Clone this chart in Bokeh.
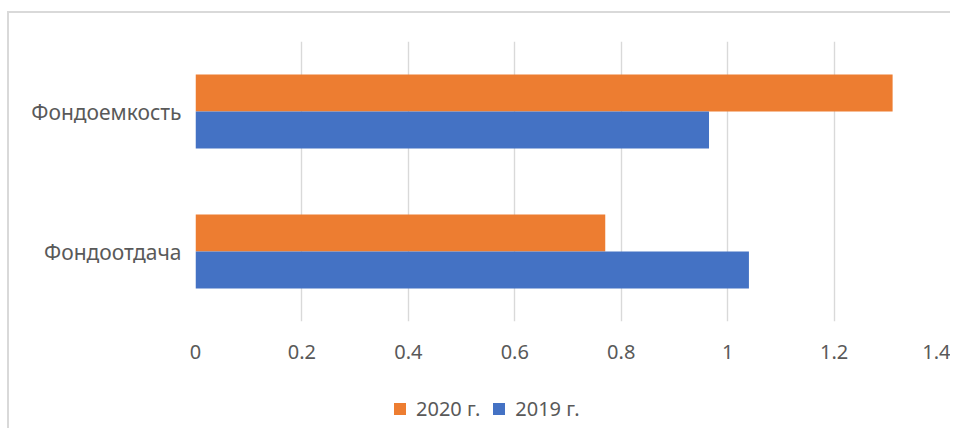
from bokeh.plotting import figure
from bokeh.models import FactorRange, Range1d, FixedTicker, Legend, LegendItem
from bokeh.transform import dodge
from bokeh.layouts import column
from bokeh.embed import file_html
from bokeh.resources import INLINE

categories = ["Фондоотдача", "Фондоемкость"]
values_2020 = [0.77, 1.31]
values_2019 = [1.04, 0.965]
series_names = ["2020 г.", "2019 г."]
x_ticks = [0, 0.2, 0.4, 0.6, 0.8, 1, 1.2, 1.4]
x_tick_labels = ["0", "0.2", "0.4", "0.6", "0.8", "1", "1.2", "1.4"]

ORANGE = "#ED7D31"
BLUE = "#4472C4"
TEXT = "#595959"
GRID = "#D9D9D9"
FONT = "Noto Sans"

p = figure(width=941, height=370, output_backend="svg", toolbar_location=None,
           y_range=FactorRange(*categories), x_range=Range1d(0, 1.4),
           min_border_left=186, min_border_right=10, min_border_top=28, min_border_bottom=62)

data = dict(cat=categories, v2020=values_2020, v2019=values_2019)
bar_h = 0.264
p.hbar(y=dodge("cat", bar_h / 2, range=p.y_range), right="v2020", left=0, height=bar_h,
       color=ORANGE, line_color=None, source=data)
p.hbar(y=dodge("cat", -bar_h / 2, range=p.y_range), right="v2019", left=0, height=bar_h,
       color=BLUE, line_color=None, source=data)

p.outline_line_color = None
p.ygrid.grid_line_color = None
p.xgrid.grid_line_color = GRID
p.xgrid.grid_line_width = 1.4
p.xaxis.ticker = FixedTicker(ticks=x_ticks)
p.xaxis.major_label_overrides = {t: l for t, l in zip(x_ticks, x_tick_labels)}

for ax in (p.xaxis, p.yaxis):
    ax.axis_line_color = None
    ax.major_tick_line_color = None
    ax.minor_tick_line_color = None
    ax.major_label_text_font = FONT
    ax.major_label_text_color = TEXT
p.xaxis.major_label_text_font_size = "20px"
p.yaxis.major_label_text_font_size = "21px"
p.xaxis.major_label_standoff = 17
p.yaxis.major_label_standoff = 8

# legend strip: the same series drawn outside its visible ranges, only the legend shows
lg = figure(width=941, height=45, output_backend="svg", toolbar_location=None,
            x_range=Range1d(5, 6), y_range=Range1d(5, 6),
            x_axis_type=None, y_axis_type=None,
            min_border_left=0, min_border_right=0, min_border_top=0, min_border_bottom=0)
lg.outline_line_color = None
lg.grid.grid_line_color = None
l20 = lg.hbar(y=0, right="v2020", left=0, height=0.1, color=ORANGE, line_color=None, source=data)
l19 = lg.hbar(y=0, right="v2019", left=0, height=0.1, color=BLUE, line_color=None, source=data)

legend = Legend(items=[LegendItem(label=series_names[0], renderers=[l20]),
                       LegendItem(label=series_names[1], renderers=[l19])],
                orientation="horizontal", location=(197, 6))
legend.padding = 0
legend.margin = 0
legend.spacing = 11
legend.label_standoff = 9
legend.glyph_width = 15
legend.glyph_height = 15
legend.label_text_font = FONT
legend.label_text_font_size = "20px"
legend.label_text_color = TEXT
legend.background_fill_alpha = 0
legend.border_line_color = None
lg.add_layout(legend, "center")

layout = column(p, lg, spacing=0)
layout.styles = {"border-left": "2px solid #D9D9D9", "border-top": "2px solid #D9D9D9",
                 "margin-top": "11px", "margin-left": "7px"}

open("out.html", "w").write(file_html(layout, INLINE))
